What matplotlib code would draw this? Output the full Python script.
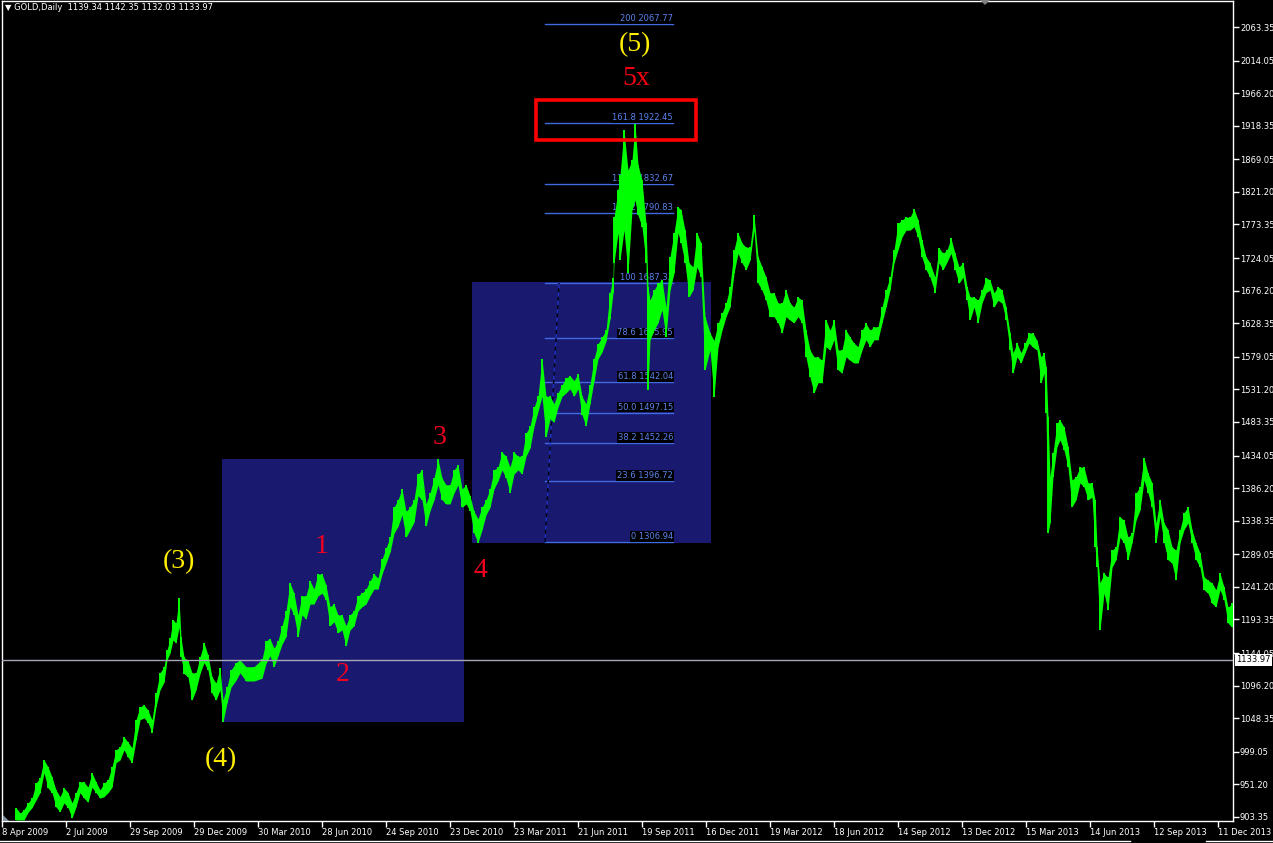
import matplotlib
matplotlib.use("Agg")
import matplotlib.pyplot as plt
import matplotlib.transforms as mtransforms
from matplotlib.patches import Rectangle, Polygon

# ---------------- data ----------------
bar_index = [16,20,24,28,32,36,40,44,48,52,56,60,64,68,72,76,80,84,88,92,96,100,104,108,112,116,120,124,128,132,
             136,140,144,148,152,156,160,164,167,170,173,176,179,181,184,188,192,196,200,204,208,212,216,220,223,227,231,236,240,
             246,254,262,266,270,274,278,282,286,290,294,298,302,306,310,314,318,322,326,330,334,338,342,346,350,354,358,362,366,370,
             374,378,382,386,390,394,398,402,406,410,414,418,422,426,430,434,438,442,446,450,454,458,462,466,470,474,478,482,486,490,
             494,498,502,506,510,514,518,522,526,530,534,538,542,546,550,554,558,562,566,570,574,578,582,586,590,594,598,602,606,610,613,
             614,618,620,624,628,632,635,638,642,646,648,650,654,658,662,666,670,674,678,681,685,689,693,697,701,705,710,714,718,722,
             726,730,734,738,742,746,750,754,758,762,766,770,774,778,782,786,790,794,798,802,806,810,814,818,822,826,830,834,838,842,
             846,850,854,858,862,866,870,874,878,882,886,890,894,898,902,906,910,914,918,922,926,930,
             935,939,943,947,951,955,959,963,967,970,974,978,982,986,990,994,998,1002,1006,1010,1013,1017,1021,1025,1029,1033,1037,1041,1044,1046,
             1048,1050,1053,1057,1060,1064,1068,1072,1076,1080,1084,1088,1092,1095,1097,1100,1104,1108,1112,1116,1120,1124,1128,1132,1136,1140,1144,1148,1152,1156,
             1160,1164,1168,1172,1176,1180,1184,1188,1192,1196,1200,1204,1208,1212,1216,1220,1224,1228,1232]

bar_high = [917,909,914,924,931,953,961,987,977,962,943,933,946,939,924,939,955,955,947,968,955,943,953,958,977,1002,1006,1021,1013,1005,
            1046,1065,1068,1060,1046,1085,1115,1124,1148,1166,1193,1188,1225,1167,1138,1133,1115,1115,1138,1159,1141,1109,1100,1122,1075,1094,1119,1130,1134,
            1124,1124,1135,1162,1165,1151,1162,1184,1206,1247,1232,1200,1228,1228,1250,1238,1260,1260,1244,1212,1216,1200,1200,1184,1200,1206,1228,1232,1238,1250,
            1260,1254,1282,1298,1314,1358,1369,1385,1352,1358,1369,1407,1413,1363,1379,1401,1429,1401,1391,1391,1413,1420,1385,1391,1375,1352,1341,1358,1369,1385,
            1413,1417,1439,1433,1417,1439,1433,1433,1467,1477,1505,1521,1576,1521,1521,1510,1526,1538,1548,1551,1544,1554,1521,1510,1538,1576,1598,1608,1618,1673,1695,
            1784,1824,1846,1912,1853,1868,1921,1861,1838,1775,1682,1662,1677,1687,1692,1652,1726,1761,1799,1795,1765,1717,1711,1761,1746,1638,1614,1603,1628,1643,
            1658,1682,1736,1761,1746,1740,1740,1787,1726,1711,1696,1673,1673,1658,1658,1677,1658,1652,1667,1662,1618,1589,1579,1579,1574,1633,1618,1633,1589,1589,
            1618,1608,1599,1594,1618,1628,1618,1623,1623,1652,1677,1696,1736,1775,1780,1784,1784,1796,1780,1750,1726,1717,
            1696,1739,1731,1736,1753,1731,1711,1717,1682,1667,1667,1662,1677,1695,1692,1673,1682,1677,1652,1614,1585,1599,1585,1599,1614,1614,1603,1579,1585,1564,
            1491,1403,1438,1482,1486,1476,1447,1398,1403,1417,1417,1394,1394,1369,1300,1247,1261,1255,1295,1300,1344,1339,1314,1320,1379,1388,1431,1408,1394,1335,
            1369,1335,1325,1300,1295,1325,1350,1359,1325,1306,1291,1256,1251,1247,1237,1261,1241,1211,1217]

bar_low = [899,899,899,910,917,928,939,968,946,939,918,911,924,917,902,918,939,931,925,947,939,931,933,939,947,983,987,1002,991,983,
           1016,1046,1049,1042,1027,1065,1090,1101,1134,1144,1163,1159,1182,1138,1114,1109,1075,1090,1114,1130,1119,1085,1075,1090,1043,1071,1094,1104,1115,
           1103,1103,1107,1129,1140,1124,1140,1157,1168,1212,1200,1168,1200,1194,1216,1216,1228,1232,1222,1184,1190,1174,1178,1154,1178,1184,1206,1212,1216,1228,
           1238,1238,1260,1276,1292,1320,1330,1347,1314,1325,1336,1375,1369,1330,1353,1369,1391,1369,1363,1363,1379,1391,1358,1363,1353,1320,1306,1325,1347,1358,
           1385,1397,1413,1401,1379,1407,1413,1407,1433,1445,1477,1499,1521,1461,1488,1483,1505,1521,1526,1532,1521,1532,1494,1477,1510,1544,1576,1586,1602,1635,1673,
           1717,1761,1721,1765,1702,1795,1809,1787,1770,1717,1530,1604,1618,1629,1648,1608,1677,1702,1761,1746,1717,1667,1677,1711,1696,1560,1589,1520,1593,1618,
           1638,1652,1702,1731,1717,1707,1721,1765,1687,1677,1662,1638,1638,1629,1614,1638,1633,1629,1638,1629,1579,1549,1526,1541,1541,1594,1589,1604,1560,1555,
           1579,1574,1570,1570,1589,1604,1594,1604,1604,1629,1652,1677,1717,1736,1755,1765,1765,1770,1755,1725,1707,1696,
           1673,1717,1707,1718,1731,1707,1687,1696,1662,1633,1652,1629,1658,1673,1677,1652,1662,1658,1633,1589,1555,1579,1570,1585,1599,1593,1589,1541,1555,1497,
           1320,1335,1403,1447,1457,1442,1417,1359,1369,1394,1388,1369,1373,1300,1270,1178,1232,1207,1270,1281,1314,1306,1281,1306,1339,1354,1398,1379,1358,1306,
           1344,1306,1281,1276,1251,1306,1325,1335,1306,1281,1270,1237,1232,1217,1212,1237,1222,1188,1182]

date_labels = ["8 Apr 2009", "2 Jul 2009", "29 Sep 2009", "29 Dec 2009", "30 Mar 2010", "28 Jun 2010",
               "24 Sep 2010", "23 Dec 2010", "23 Mar 2011", "21 Jun 2011", "19 Sep 2011", "16 Dec 2011",
               "19 Mar 2012", "18 Jun 2012", "14 Sep 2012", "13 Dec 2012", "15 Mar 2013", "14 Jun 2013",
               "12 Sep 2013", "11 Dec 2013"]
date_bar = [2 + 64 * i for i in range(len(date_labels))]

price_ticks = [2063.35, 2014.05, 1966.20, 1918.35, 1869.05, 1821.20, 1773.35, 1724.05, 1676.20, 1628.35,
               1579.05, 1531.20, 1483.35, 1434.05, 1386.20, 1338.35, 1289.05, 1241.20, 1193.35, 1144.05,
               1096.20, 1048.35, 999.05, 951.20, 903.35]

fib_pct = ["0", "23.6", "38.2", "50.0", "61.8", "78.6", "100", "127.2", "138.2", "161.8", "200"]
fib_val = [1306.94, 1396.72, 1452.26, 1497.15, 1542.04, 1605.95, 1687.33, 1790.83, 1832.67, 1922.45, 2067.77]
fib_bar_start, fib_bar_end = 545, 673
fib_trend_bar = [545, 559]

boxes = [  # (bar_start, bar_end, price_low, price_high)
    (222, 464, 1043.0, 1429.0),
    (472, 711, 1306.0, 1689.0),
]
red_box = (536, 696, 1897.5, 1956.0)
current_price = 1133.97
header = "\u25BC GOLD,Daily  1139.34 1142.35 1132.03 1133.97"

wave_labels = [("(5)", 635, 2038, "#ffee00"), ("5x", 636, 1987, "#f00010"),
               ("(3)", 179, 1278, "#ffee00"), ("(4)", 221, 987, "#ffee00"),
               ("1", 322, 1300, "#f00020"), ("2", 343, 1112, "#f00020"),
               ("3", 440, 1460, "#f00020"), ("4", 480, 1266, "#f00020")]

# ---------------- figure ----------------
W, H = 1273, 843
fig = plt.figure(figsize=(W / 100, H / 100), dpi=100, facecolor="black")
x0, x1, y0, y1 = 2, 1233, 1, 821
ax = fig.add_axes([x0 / W, 1 - y1 / H, (x1 - x0) / W, (y1 - y0) / H], facecolor="black")
ax.set_xlim(x0, x1)
ax.set_ylim(2103.0 - 1.4684 * y1, 2103.0 - 1.4684 * y0)

for s in ax.spines.values():
    s.set_color("white")
    s.set_linewidth(1)

# boxes
for b0, b1, lo, hi in boxes:
    ax.add_patch(Rectangle((b0, lo), b1 - b0, hi - lo, facecolor="#191970", edgecolor="none", zorder=1))

# fibonacci levels
for pct, v in zip(fib_pct, fib_val):
    ax.plot([fib_bar_start, fib_bar_end], [v, v], color="#4169e1", lw=1, zorder=2)
    bb = None if pct == "100" else dict(facecolor="black", edgecolor="none", pad=0.6)
    ax.text(fib_bar_end, v + 1.5, f"{pct} {v:.2f}", color="#5b82ee", fontsize=6,
            ha="right", va="bottom", zorder=3, bbox=bb)
ax.plot(fib_trend_bar, [fib_val[0], fib_val[6]], color="#2030c0", lw=1, zorder=2)
ax.plot(fib_trend_bar, [fib_val[0], fib_val[6]], color="black", lw=1, ls=(0, (3, 3)), zorder=2)

# price bars
ax.fill_between(bar_index, bar_low, bar_high, color="#00ff00", lw=0, zorder=4)
ax.vlines(bar_index, bar_low, bar_high, color="#00ff00", lw=1.4, zorder=4)

# current price line
ax.axhline(current_price, color="#a8a8b8", lw=1, zorder=5)

# red rectangle
ax.add_patch(Rectangle((red_box[0], red_box[2]), red_box[1] - red_box[0], red_box[3] - red_box[2],
                       facecolor="none", edgecolor="#ff0000", lw=2.6, zorder=6))

# wave labels
for txt, bx, py, col in wave_labels:
    ax.text(bx, py, txt, color=col, fontsize=20, family="Liberation Serif",
            ha="center", va="center", zorder=7)

# axes ticks
ax.yaxis.tick_right()
ax.set_yticks(price_ticks)
ax.set_yticklabels([f"{p:.2f}" for p in price_ticks])
ax.tick_params(axis="y", colors="white", labelsize=6, length=4, pad=1, width=1)
ax.set_xticks(date_bar)
ax.set_xticklabels(date_labels)
ax.tick_params(axis="x", colors="white", labelsize=6, length=4, pad=1, width=1)
for lab in ax.get_xticklabels():
    lab.set_ha("left")

# current price box on the scale
trans = mtransforms.blended_transform_factory(ax.transAxes, ax.transData)
ax.text(1.0 + 3 / (x1 - x0), current_price, f"{current_price:.2f}", transform=trans,
        color="black", fontsize=6, ha="left", va="center", zorder=10,
        bbox=dict(facecolor="white", edgecolor="none", pad=1.0))

# header
fig.text(5 / W, 1 - 8 / H, header, color="white", fontsize=6, ha="left", va="center")

# small grey markers
fig.patches.append(Polygon([[980 / W, 1 - 0 / H], [990 / W, 1 - 0 / H], [985 / W, 1 - 5 / H]],
                           closed=True, transform=fig.transFigure, facecolor="#808080", edgecolor="none"))
fig.patches.append(Polygon([[3 / W, 1 - 815 / H], [3 / W, 1 - 821 / H], [9 / W, 1 - 821 / H]],
                           closed=True, transform=fig.transFigure, facecolor="#8090a0", edgecolor="none"))
# window bottom line
fig.add_artist(plt.Line2D([0, 1130 / W], [1 - 841 / H, 1 - 841 / H], transform=fig.transFigure, color="white", lw=1))
fig.add_artist(plt.Line2D([1206 / W, 1], [1 - 841 / H, 1 - 841 / H], transform=fig.transFigure, color="white", lw=1))

fig.savefig("out.png", dpi=100, facecolor="black")
